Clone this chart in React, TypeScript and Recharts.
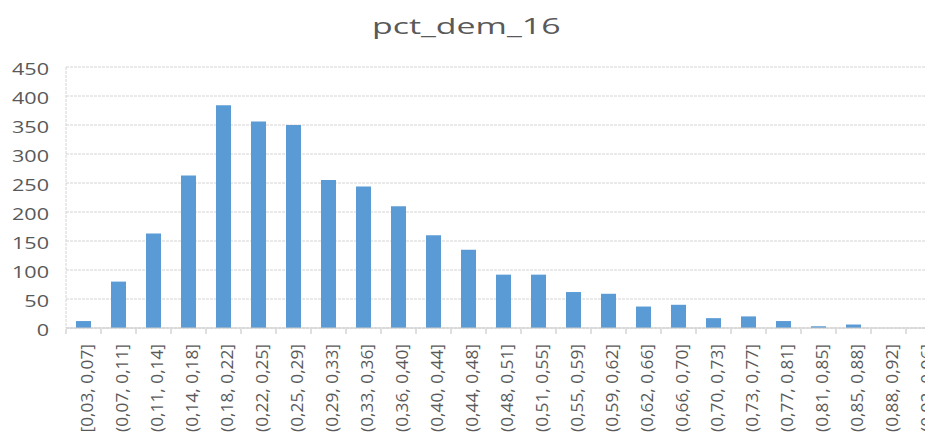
import { Bar, BarChart, CartesianGrid, XAxis, YAxis } from "recharts";

const BAR = "#5B9BD5";
const TEXT = "#595959";
const GRID = "#d4d4d4";

const bins = [
  "[0,03, 0,07]", "(0,07, 0,11]", "(0,11, 0,14]", "(0,14, 0,18]", "(0,18, 0,22]",
  "(0,22, 0,25]", "(0,25, 0,29]", "(0,29, 0,33]", "(0,33, 0,36]", "(0,36, 0,40]",
  "(0,40, 0,44]", "(0,44, 0,48]", "(0,48, 0,51]", "(0,51, 0,55]", "(0,55, 0,59]",
  "(0,59, 0,62]", "(0,62, 0,66]", "(0,66, 0,70]", "(0,70, 0,73]", "(0,73, 0,77]",
  "(0,77, 0,81]", "(0,81, 0,85]", "(0,85, 0,88]", "(0,88, 0,92]", "(0,92, 0,96]",
];
const counts = [12, 80, 163, 263, 384, 356, 350, 255, 244, 210, 160, 135, 92, 92, 62, 59, 37, 40, 17, 20, 12, 3, 6, 0, 0];
const yTicks = [0, 50, 100, 150, 200, 250, 300, 350, 400, 450];

const data = bins.map((bin, i) => ({ bin, count: counts[i] }));

function YTick({ x, y, payload }: any) {
  return (
    <g transform={`translate(${x - 9},${y}) scale(1.35,1)`}>
      <text textAnchor="end" dy={7.8} fontSize={16} fill={TEXT} fontFamily="Open Sans">
        {payload.value}
      </text>
    </g>
  );
}

function XTick({ x, y, payload }: any) {
  const half = payload.offset || 17.5;
  return (
    <g>
      <line x1={x - half} x2={x - half} y1={y + 1} y2={y + 6} stroke="#bfbfbf" />
      <g transform={`translate(${x},${y + 16}) rotate(-90) scale(1.08,1)`}>
        <text textAnchor="end" dy={9} fontSize={16} fill={TEXT} fontFamily="Open Sans">
          {payload.value}
        </text>
      </g>
    </g>
  );
}

export default function App() {
  return (
    <div
      style={{
        position: "absolute",
        left: 0,
        top: 0,
        width: 925,
        height: 433,
        overflow: "hidden",
        background: "#fff",
      }}
    >
      <div
        style={{
          position: "absolute",
          left: 0,
          top: 10,
          width: 933,
          textAlign: "center",
          fontFamily: "Open Sans",
          fontSize: 22,
          color: TEXT,
          transform: "scaleX(1.54)",
          transformOrigin: "467px 0",
          whiteSpace: "nowrap",
        }}
      >
        pct_dem_16
      </div>
      <BarChart
        width={960}
        height={433}
        data={data}
        margin={{ top: 67, right: 19, left: 0, bottom: 0 }}
        barSize={15}
      >
        <CartesianGrid vertical={false} stroke={GRID} strokeDasharray="3 1" />
        <XAxis
          dataKey="bin"
          interval={0}
          height={105}
          tickSize={0}
          tickMargin={0}
          axisLine={{ stroke: "#c8c8c8" }}
          tick={<XTick />}
        />
        <YAxis
          width={66}
          domain={[0, 450]}
          ticks={yTicks}
          tickLine={false}
          axisLine={{ stroke: GRID, strokeDasharray: "3 1" }}
          tick={<YTick />}
        />
        <Bar dataKey="count" fill={BAR} isAnimationActive={false} />
      </BarChart>
    </div>
  );
}
